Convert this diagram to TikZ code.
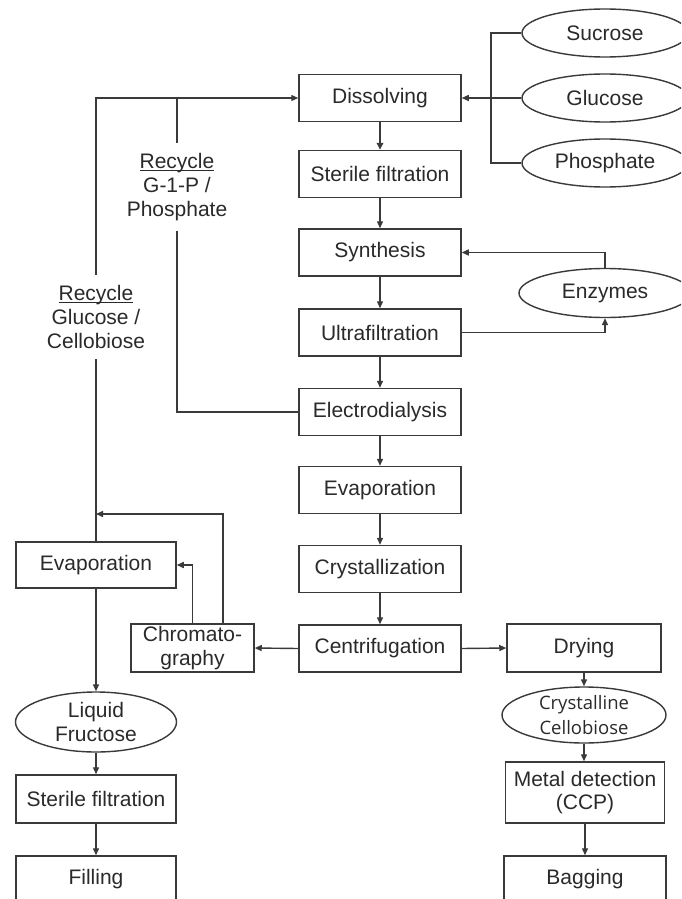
\documentclass[tikz,border=0pt]{standalone}
\usepackage{fontspec}
\setmainfont{Liberation Sans}
\newfontfamily\crysfont{Open Sans}
\usetikzlibrary{shapes.geometric,arrows.meta}
\definecolor{ln}{HTML}{3A3A3A}
\definecolor{txt}{HTML}{2A2A2A}
\newcommand{\ulbl}[1]{\setbox0\hbox{#1}\rlap{\rule[-2.2pt]{\wd0}{1pt}}\box0}
\begin{document}
\begin{tikzpicture}[x=1pt,y=-1pt,
  every node/.style={font=\fontsize{21}{24}\selectfont, text=txt},
  box/.style={draw=ln, line width=1.5pt, rectangle, minimum width=162pt, minimum height=47pt, inner sep=0pt, align=center},
  ell/.style={draw=ln, line width=1.4pt, ellipse, inner sep=0pt, align=center},
  conn/.style={draw=ln, line width=1.4pt},
  arr/.style={conn, -{Triangle[length=7pt,width=6pt]}},
  lbl/.style={fill=white, align=center, inner xsep=2pt, inner ysep=10pt}
]
\clip (0,0) rectangle (681,899);
\fill[white] (0,0) rectangle (681,899);

% centre column
\node[box] (dis) at (380,98) {Dissolving};
\node[box] (sf1) at (380,174) {Sterile filtration};
\node[box] (syn) at (380,252.5) {Synthesis};
\node[box] (uf)  at (380,332.5) {Ultrafiltration};
\node[box] (ed)  at (380,412) {Electrodialysis};
\node[box] (ev1) at (380,490) {Evaporation};
\node[box] (cr)  at (380,569) {Crystallization};
\node[box] (ce)  at (380,648.5) {Centrifugation};

% inputs
\node[ell, minimum width=166pt, minimum height=48pt] (suc) at (605,33) {Sucrose};
\node[ell, minimum width=166pt, minimum height=48pt] (glu) at (605,98) {Glucose};
\node[ell, minimum width=166pt, minimum height=48pt] (pho) at (605,163) {Phosphate};
\node[ell, minimum width=172pt, minimum height=49pt] (enz) at (605,293) {Enzymes};
\coordinate (br) at (491,98);

% left column
\node[box, minimum width=160pt, minimum height=46pt] (evL) at (96,565) {Evaporation};
\node[box, minimum width=123pt, minimum height=48pt] (chr) at (192.5,648) {Chromato-\\graphy};
\node[ell, minimum width=161pt, minimum height=60pt] (lf) at (96,722) {Liquid\\Fructose};
\node[box, minimum width=160pt, minimum height=48pt] (sf2) at (96,799) {Sterile filtration};
\node[box, minimum width=160pt, minimum height=47pt] (fil) at (96,879.5) {Filling};

% right column
\node[box, minimum width=154pt, minimum height=48pt] (dry) at (584,648) {Drying};
\node[ell, minimum width=164pt, minimum height=56pt, font=\crysfont\fontsize{18.5}{25}\selectfont] (cc) at (584,715) {Crystalline\\Cellobiose};
\node[box, minimum width=159pt, minimum height=61pt, font=\fontsize{21}{23}\selectfont] (md) at (585,792.5) {Metal detection\\(CCP)};
\node[box, minimum width=162pt, minimum height=47pt] (bag) at (585,879.5) {Bagging};

% main flow
\draw[conn, line width=2pt, -{Triangle[length=7pt,width=6.5pt]}] (dis) -- (sf1);
\draw[arr] (sf1) -- (syn);
\draw[arr] (syn) -- (uf);
\draw[arr] (uf) -- (ed);
\draw[arr] (ed) -- (ev1);
\draw[arr] (ev1) -- (cr);
\draw[arr] (cr) -- (ce);

% inputs bracket
\draw[conn] (suc.west) -| (br) |- (pho.west);
\draw[conn] (glu.west) -- (br);
\draw[arr] (br) -- (dis.east);

% enzymes loop
\draw[arr] (enz.north) |- (syn.east);
\draw[arr] (uf.east) -| (enz.south);

% recycles
\coordinate (tm) at (177,98);
\draw[arr] (evL.north) |- (dis.west);
\draw[conn] (ed.west) -| (tm);
\node[lbl] (r1) at (96,317) {\ulbl{Recycle}\\Glucose /\\Cellobiose};
\node[lbl] (r2) at (177,187) {\ulbl{Recycle}\\G-1-P /\\Phosphate};

% chromatography
\coordinate (c2) at (223,624);
\coordinate (j) at (96,514);
\draw[arr] (ce.west) -- (chr.east);
\draw[arr] (chr.north) |- (evL.east);
\draw[arr] (c2) |- (j);

% left outputs
\draw[arr] (evL.south) -- (lf.north);
\draw[arr] (lf.south) -- (sf2.north);
\draw[arr] (sf2.south) -- (fil.north);

% right outputs
\draw[arr] (ce.east) -- (dry.west);
\draw[arr] (dry.south) -- (cc.north);
\draw[arr] (cc.south) -- (md.north -| cc.south);
\draw[arr] (md.south) -- (bag.north);
\end{tikzpicture}
\end{document}
